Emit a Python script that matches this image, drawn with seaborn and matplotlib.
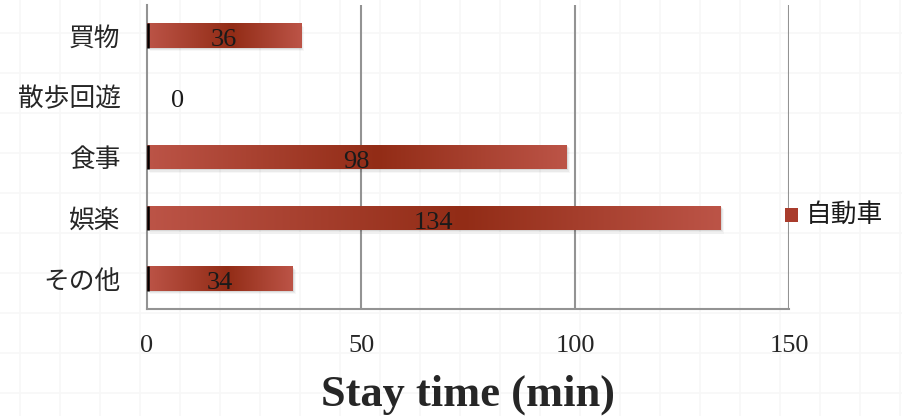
import numpy as np
import pandas as pd
import matplotlib
matplotlib.use("Agg")
import matplotlib.pyplot as plt
from matplotlib.colors import LinearSegmentedColormap
from matplotlib.lines import Line2D
from matplotlib.patches import Rectangle
import seaborn as sns

categories = ["買物", "散歩回遊", "食事", "娯楽", "その他"]
values = [36, 0, 98, 134, 34]
series_name = "自動車"
xticks = [0, 50, 100, 150]
xlabel = "Stay time (min)"

sns.set_theme(style="white")
plt.rcParams['font.family'] = ['Liberation Serif', 'Noto Sans CJK JP']

W, H = 903, 416
fig = plt.figure(figsize=(W / 100, H / 100), dpi=100)
fig.patch.set_facecolor("white")

# faint background grid
for x in range(20, W, 40):
    fig.add_artist(Line2D([x / W, x / W], [0, 1], color="#f7f7f7", lw=1.2, zorder=-10))
for y in range(33, H, 40):
    fig.add_artist(Line2D([0, 1], [1 - y / H, 1 - y / H], color="#f7f7f7", lw=1.2, zorder=-10))

ax = fig.add_axes([147 / W, 1 - 309 / H, (789 - 147) / W, (309 - 5) / H])
ax.patch.set_alpha(0)

df = pd.DataFrame({"category": categories, "value": values})
sns.barplot(data=df, x="value", y="category", orient="h", ax=ax, width=0.4,
            color="#b5473a", zorder=3)

ax.set_xlim(0, 150)
ax.set_ylim(len(categories) - 0.5, -0.5)

cmap = LinearSegmentedColormap.from_list(
    "g", [(0, "#bc5447"), (0.55, "#922c16"), (1, "#bc5447")])
grad = np.linspace(0, 1, 256).reshape(1, -1)

for p, v in zip(ax.patches, values):
    x0, y0 = p.get_x(), p.get_y()
    w, h = p.get_width(), p.get_height()
    p.set_facecolor("none")
    p.set_edgecolor("none")
    if w <= 0:
        continue
    # soft shadow
    for k, a in [(1, 0.07), (2, 0.05), (3, 0.03)]:
        ax.add_patch(Rectangle((x0 + 0.25 * k, y0 + 0.02 * k), w, h, facecolor="black",
                               alpha=a, edgecolor="none", zorder=2))
    im = ax.imshow(grad, cmap=cmap, aspect="auto", extent=(x0, x0 + w, y0 + h, y0),
                   zorder=3, interpolation="bilinear")
    im.set_clip_path(p)
    ax.plot([0.15, 0.15], [y0, y0 + h], color="black", lw=1.8, zorder=4,
            solid_capstyle="butt")

ax.set_ylim(len(categories) - 0.5, -0.5)
ax.set_xlim(0, 150)

for i, v in enumerate(values):
    xpos = v / 2
    dx = 22 if v == 0 else 0
    ax.annotate(str(v), (xpos, i), xytext=(dx, -3.5), textcoords="offset points",
                ha="center", va="center", fontsize=19, color="#1a1a1a", zorder=5)

# gridlines
for t in xticks[1:]:
    ax.axvline(t, color="#939393", lw=1.5, zorder=1)

ax.set_xticks(xticks)
ax.set_xticklabels([str(t) for t in xticks], fontsize=19)
ax.tick_params(axis="x", length=6, width=1.5, color="#939393", pad=13, direction="out")
ax.set_yticks(range(len(categories)))
ax.set_yticklabels(categories, fontsize=18.5, family=['Noto Sans CJK JP'])
ax.tick_params(axis="y", length=0, pad=19)
ax.set_yticks(np.arange(-0.5, len(categories), 1), minor=True)
ax.tick_params(axis="y", which="minor", length=6, width=1.5, color="#939393", direction="out")

for s in ["top", "right"]:
    ax.spines[s].set_visible(False)
for s in ["left", "bottom"]:
    ax.spines[s].set_color("#939393")
    ax.spines[s].set_linewidth(1.5)

ax.set_ylabel("")
ax.set_xlabel(xlabel, fontsize=32, fontweight="bold", labelpad=12)

# legend
lx, ly = 785, 215
fig.add_artist(Rectangle((lx / W, 1 - (ly + 7) / H), 13 / W, 14 / H,
                         transform=fig.transFigure, facecolor="#a93c2c", edgecolor="none"))
fig.text(806 / W, 1 - ly / H, series_name, fontsize=18.5, va="center", ha="left",
         family=['Noto Sans CJK JP'], color="#1a1a1a")

fig.savefig("out.png", dpi=100)
